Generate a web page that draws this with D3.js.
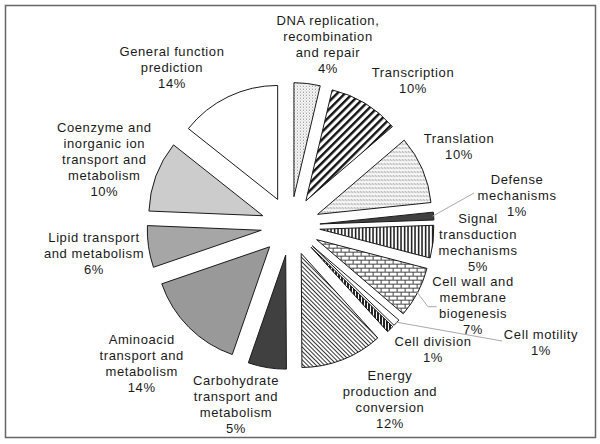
<!DOCTYPE html>
<html>
<head>
<meta charset="utf-8">
<script src="https://cdn.jsdelivr.net/npm/d3@7"></script>
<style>
  body { margin: 0; background: #fff; }
  .lbl { font-family: "Liberation Sans", Arial, sans-serif; font-size: 13px; letter-spacing: 0.6px; fill: #1a1a1a; }
</style>
</head>
<body>
<div class="chart"></div>
<script>
// categories, in clockwise order from 12 o'clock
var categories = [
  "DNA replication, recombination and repair", "Transcription", "Translation",
  "Defense mechanisms", "Signal transduction mechanisms", "Cell wall and membrane biogenesis",
  "Cell motility", "Cell division", "Energy production and conversion",
  "Carbohydrate transport and metabolism", "Aminoacid transport and metabolism",
  "Lipid transport and metabolism", "Coenzyme and inorganic ion transport and metabolism",
  "General function prediction"
];
// share of genes, percent
var shares = [3.7, 10.0, 9.6, 1.1, 4.6, 7.2, 1.0, 1.0, 11.6, 5.4, 14.4, 5.9, 10.0, 14.3];
// how each label is broken into lines
var labelLines = [
  ["DNA replication,", "recombination", "and repair"],
  ["Transcription"],
  ["Translation"],
  ["Defense", "mechanisms"],
  ["Signal", "transduction", "mechanisms"],
  ["Cell wall and", "membrane", "biogenesis"],
  ["Cell motility"],
  ["Cell division"],
  ["Energy", "production and", "conversion"],
  ["Carbohydrate", "transport and", "metabolism"],
  ["Aminoacid", "transport and", "metabolism"],
  ["Lipid transport", "and metabolism"],
  ["Coenzyme and", "inorganic ion", "transport and", "metabolism"],
  ["General function", "prediction"]
];

// layout (not data)
var svgWidth = 600, svgHeight = 444;
var cx = 290.5, cy = 226, radius = 114, explode = 29.5;
var fills = ["url(#dots)", "url(#wideUp)", "url(#dashDown)", "#404040", "url(#vert)", "url(#brick)",
  "#ffffff", "url(#darkVert)", "url(#narrowDown)", "#404040", "#999999", "#a6a6a6", "#cccccc", "#ffffff"];
var labelPos = [[328, 20.5], [413, 72.3], [459, 138.3], [517, 179], [478, 218], [473, 281.3],
  [541, 334.3], [433, 341], [390, 375.3], [236, 380.3], [141.7, 339.3], [94, 237], [104.3, 127.7], [172, 51.7]];
// leader lines: slice index -> bend points after the slice edge
var leaders = { 3: [[474, 193]], 5: [[428, 306.7], [436.7, 306.7]], 6: [[502, 341]] };

var svg = d3.select(".chart")
  .append("svg")
  .attr("width", svgWidth)
  .attr("height", svgHeight);

var defs = svg.append("defs");

function pat(id, w, h, rot) {
  var p = defs.append("pattern")
    .attr("id", id)
    .attr("patternUnits", "userSpaceOnUse")
    .attr("width", w).attr("height", h);
  if (rot) p.attr("patternTransform", "rotate(" + rot + ")");
  p.append("rect").attr("width", w).attr("height", h).attr("fill", "#fff");
  return p;
}

var p = pat("dots", 3, 3);
p.append("rect").attr("x", 0).attr("y", 0).attr("width", 1).attr("height", 1).attr("fill", "#777");
p.append("rect").attr("x", 1.5).attr("y", 1.5).attr("width", 1).attr("height", 1).attr("fill", "#999");

p = pat("wideUp", 5.5, 5.5, 45);
p.append("rect").attr("width", 2.4).attr("height", 5.5).attr("fill", "#111");

p = pat("dashDown", 3, 4);
p.append("path").attr("d", "M0,0.5 L2.2,2.7").attr("stroke", "#444").attr("stroke-width", 0.9);

p = pat("vert", 3.5, 4);
p.append("rect").attr("width", 1.5).attr("height", 4).attr("fill", "#111");

p = pat("brick", 8, 8);
p.append("path")
  .attr("d", "M0,0.5 H8 M0,4.5 H8 M0.5,0.5 V4.5 M4.5,4.5 V8")
  .attr("stroke", "#333").attr("stroke-width", 0.9).attr("fill", "none");

p = pat("darkVert", 3, 3);
p.append("rect").attr("width", 2).attr("height", 3).attr("fill", "#222");

p = pat("narrowDown", 3, 3, -45);
p.append("rect").attr("width", 1).attr("height", 3).attr("fill", "#333");

// frame
svg.append("rect")
  .attr("x", 5.5).attr("y", 5.5)
  .attr("width", 590).attr("height", 432)
  .attr("fill", "none")
  .attr("stroke", "#666")
  .attr("stroke-width", 1.5);

var pie = d3.pie().sort(null).value(function(d) { return d; });
var arcs = pie(shares);
var arc = d3.arc().innerRadius(0).outerRadius(radius);

function offset(d, r) {
  var a = (d.startAngle + d.endAngle) / 2;
  return [r * Math.sin(a), -r * Math.cos(a)];
}

var chart = svg.append("g")
  .attr("transform", "translate(" + cx + "," + cy + ")");

// leader lines first so slices sit on top
Object.keys(leaders).forEach(function(k) {
  var d = arcs[+k];
  var o = offset(d, explode + radius - 1);
  var pts = [[cx + o[0], cy + o[1]]].concat(leaders[k]);
  svg.append("path")
    .attr("d", d3.line()(pts))
    .attr("fill", "none")
    .attr("stroke", "#aaa")
    .attr("stroke-width", 1);
});

chart.selectAll("path.slice")
  .data(arcs)
  .enter().append("path")
    .attr("class", "slice")
    .attr("transform", function(d) {
      var o = offset(d, explode);
      return "translate(" + o[0] + "," + o[1] + ")";
    })
    .attr("d", arc)
    .attr("fill", function(d, i) { return fills[i]; })
    .attr("stroke", "#1a1a1a")
    .attr("stroke-width", 1)
    .attr("stroke-linejoin", "miter");

var labels = svg.selectAll("text.lbl")
  .data(arcs)
  .enter().append("text")
    .attr("class", "lbl")
    .attr("text-anchor", "middle");

labels.each(function(d, i) {
  var t = d3.select(this);
  var lines = labelLines[i].concat([Math.round(shares[i]) + "%"]);
  lines.forEach(function(s, j) {
    t.append("tspan")
      .attr("x", labelPos[i][0])
      .attr("y", labelPos[i][1] + j * 16)
      .attr("dy", "0.36em")
      .text(s);
  });
});
</script>
</body>
</html>
